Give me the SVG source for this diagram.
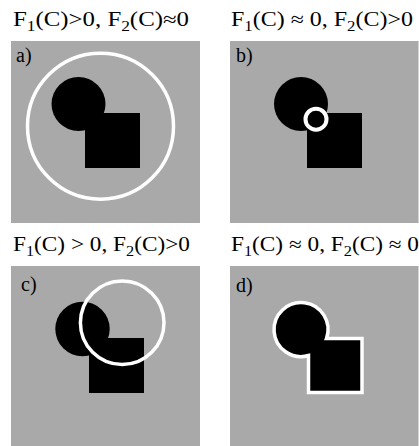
<svg xmlns="http://www.w3.org/2000/svg" width="419" height="446" viewBox="0 0 419 446">
<style>
.bg{fill:#a9a9a9}
.blk{fill:#000}
.ring{fill:none;stroke:#fff;stroke-width:3.5}
.title{font-family:"Liberation Serif","Times New Roman",serif;font-size:20px;fill:#000}
.sub{font-size:14px}
.lbl{font-family:"Liberation Serif","Times New Roman",serif;font-size:20px;fill:#000}
</style>
<rect width="419" height="446" fill="#fff"/>
<g id="panel-a">
<text class="title" x="13" y="25.5" textLength="176" lengthAdjust="spacingAndGlyphs">F<tspan class="sub" dy="5">1</tspan><tspan dy="-5">(C)&gt;0, F</tspan><tspan class="sub" dy="5">2</tspan><tspan dy="-5">(C)≈0</tspan></text>
<rect class="bg" x="11" y="41" width="189" height="182"/>
<text class="lbl" x="16" y="61.5">a)</text>
<circle class="blk" cx="78.5" cy="104" r="27"/>
<rect class="blk" x="85" y="113" width="55" height="55"/>
<circle class="ring" cx="100.5" cy="126.2" r="73"/>
</g>
<g id="panel-b">
<text class="title" x="231" y="25.5" textLength="182" lengthAdjust="spacingAndGlyphs">F<tspan class="sub" dy="5">1</tspan><tspan dy="-5">(C) ≈ 0, F</tspan><tspan class="sub" dy="5">2</tspan><tspan dy="-5">(C)&gt;0</tspan></text>
<rect class="bg" x="230" y="41" width="188.5" height="182"/>
<text class="lbl" x="236" y="62">b)</text>
<circle class="blk" cx="301" cy="104" r="27"/>
<rect class="blk" x="307" y="113" width="55" height="55"/>
<circle class="ring" cx="316" cy="119.2" r="10.5" style="stroke-width:4"/>
</g>
<g id="panel-c">
<text class="title" x="13" y="250.5" textLength="177" lengthAdjust="spacingAndGlyphs">F<tspan class="sub" dy="5">1</tspan><tspan dy="-5">(C) &gt; 0, F</tspan><tspan class="sub" dy="5">2</tspan><tspan dy="-5">(C)&gt;0</tspan></text>
<rect class="bg" x="11" y="266" width="189" height="180"/>
<text class="lbl" x="21" y="291">c)</text>
<circle class="blk" cx="82.5" cy="329" r="27.2"/>
<rect class="blk" x="89" y="338" width="55" height="55"/>
<circle class="ring" cx="122.2" cy="322.7" r="41.8"/>
</g>
<g id="panel-d">
<text class="title" x="231" y="250.5" textLength="188" lengthAdjust="spacingAndGlyphs">F<tspan class="sub" dy="5">1</tspan><tspan dy="-5">(C) ≈ 0, F</tspan><tspan class="sub" dy="5">2</tspan><tspan dy="-5">(C) ≈ 0</tspan></text>
<rect class="bg" x="230" y="266" width="188.5" height="180"/>
<text class="lbl" x="236" y="292">d)</text>
<path class="blk" d="M 326.5 338.5 L 362 338.5 L 362 392.5 L 308.5 392.5 L 308.5 355.5 A 27 27 0 1 1 326.5 338.5 Z" style="stroke:#fff;stroke-width:3.5;stroke-linejoin:miter"/>
</g>
</svg>
